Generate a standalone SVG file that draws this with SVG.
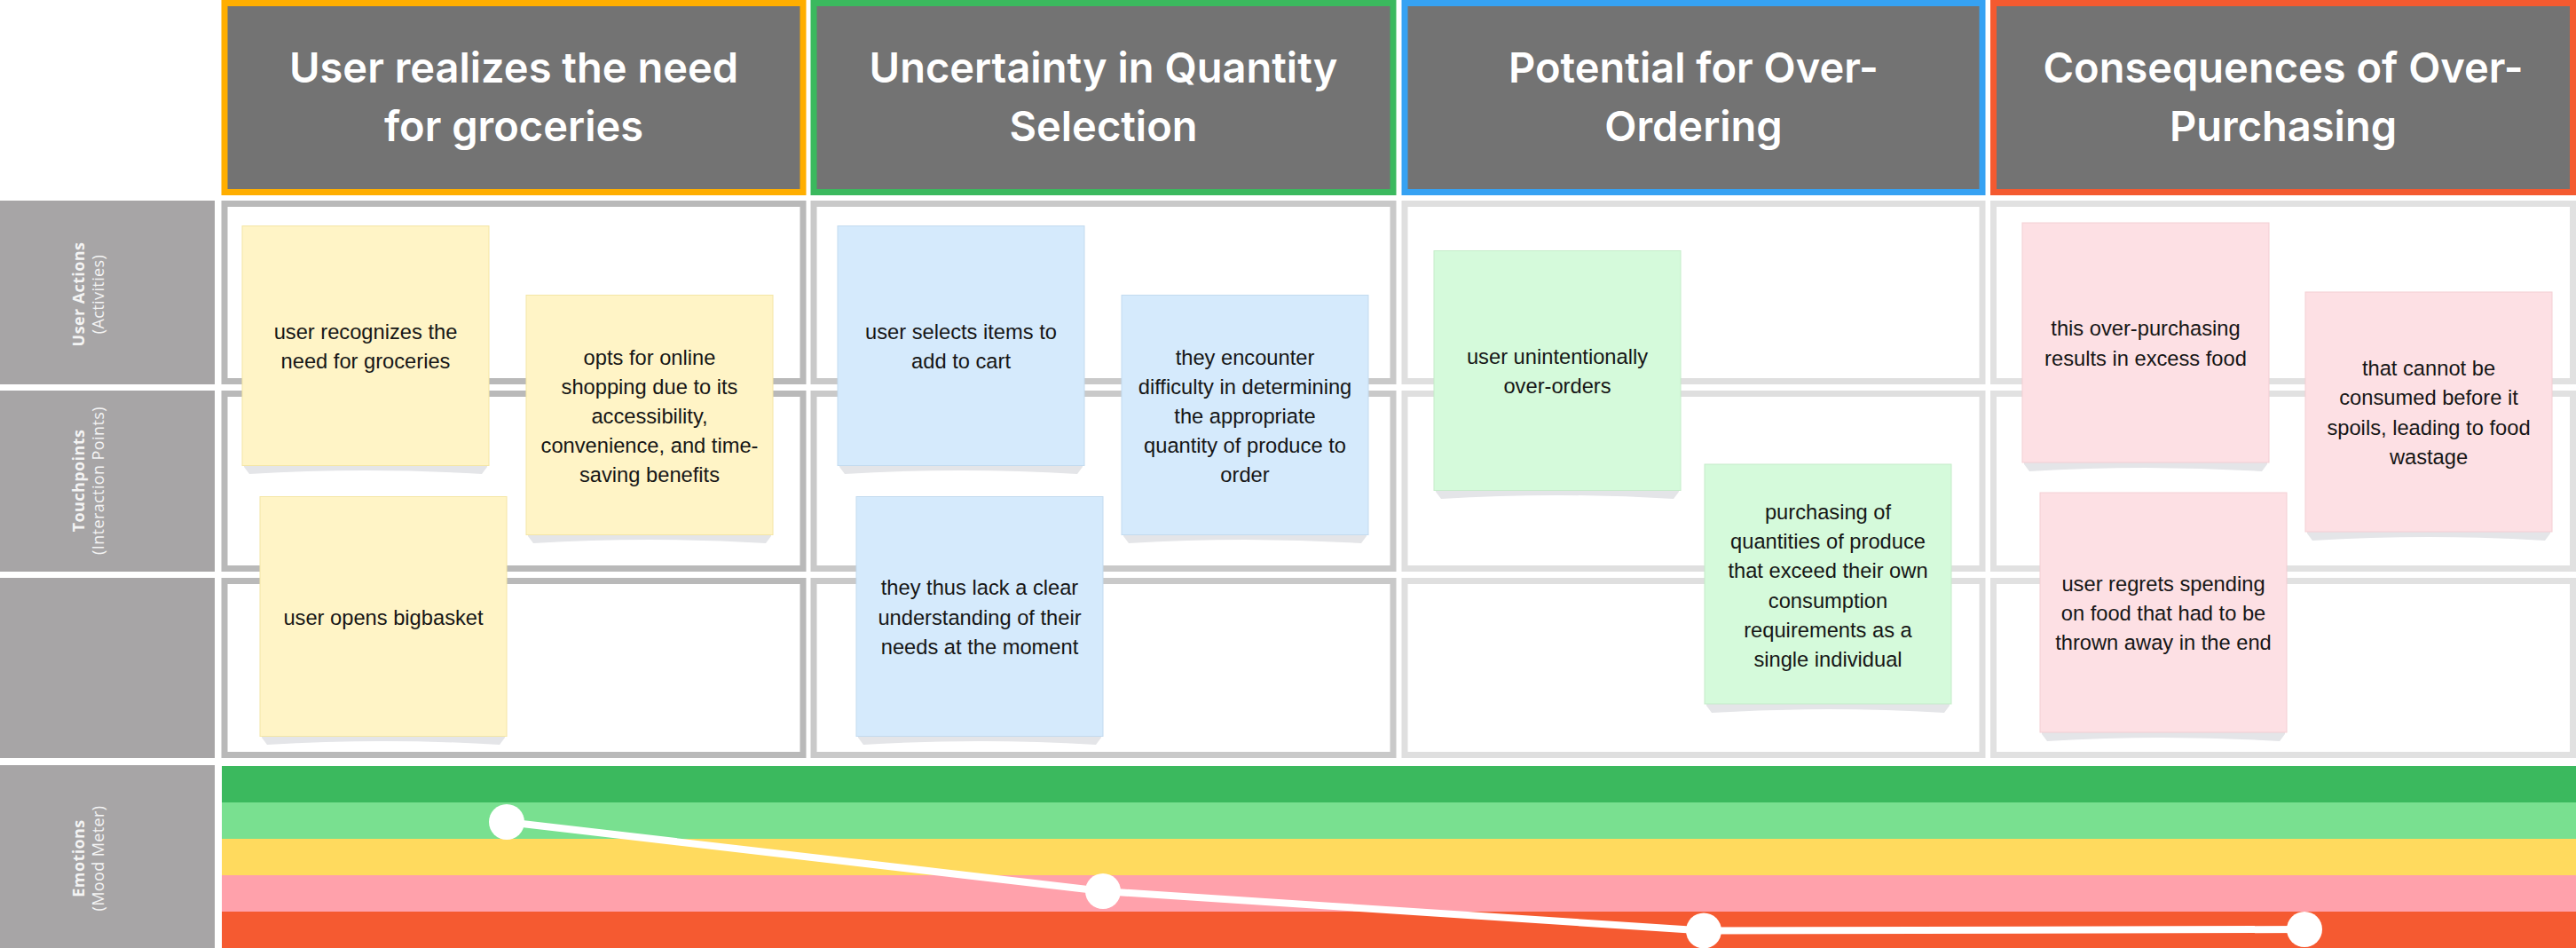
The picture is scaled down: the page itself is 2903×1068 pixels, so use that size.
<svg xmlns="http://www.w3.org/2000/svg" width="2903" height="1068" viewBox="0 0 2903 1068">
<style>
.hdr{fill:#737373;stroke-width:7}
.htxt{font-family:Inter,"Open Sans",sans-serif;font-weight:600;font-size:47px;fill:#ffffff;text-anchor:middle}
.cell{fill:#ffffff;stroke-width:7}
.c1{stroke:#b9b9b9}.c2{stroke:#c9c9c9}.c3{stroke:#dfdfdf}.c4{stroke:#e1e1e1}
.lbl{fill:#a7a5a6}
.ltxt{font-family:"Open Sans","DejaVu Sans",sans-serif;font-size:18px;fill:#f4f4f4;text-anchor:middle;letter-spacing:0.4px}
.ltxt .b{font-weight:700}
.note{stroke-width:1}
.y{fill:#fff4c6;stroke:#f4e6a6}
.bl{fill:#d5eafc;stroke:#c3dbef}
.g{fill:#d5fadb;stroke:#c5ecca}
.p{fill:#fde0e4;stroke:#f3cfd4}
.shadow{fill:#e4e5e8}
.ntxt{font-family:"Liberation Sans",Arial,sans-serif;font-size:23.7px;fill:#161616;text-anchor:middle}
.band{stroke:none}
.mood{fill:none;stroke:#ffffff;stroke-width:8;stroke-linejoin:round}
.dot{fill:#ffffff}
</style>
<defs>
<path id="shd" d="M2,0 L276,0 L276,2 L270,10 Q139,2 8,10 L2,2 Z"/>
</defs>
<rect width="2903" height="1068" fill="#ffffff"/>

<!-- Row labels -->
<g id="label-actions">
<rect class="lbl" x="0" y="226" width="242" height="207"/>
<text class="ltxt" transform="translate(95,331.5) rotate(-90)"><tspan class="b" x="0" y="0">User Actions</tspan></text>
<text class="ltxt" transform="translate(117,331.5) rotate(-90)"><tspan x="0" y="0">(Activities)</tspan></text>
</g>
<g id="label-touchpoints">
<rect class="lbl" x="0" y="440" width="242" height="204"/>
<text class="ltxt" transform="translate(95,541.5) rotate(-90)"><tspan class="b" x="0" y="0">Touchpoints</tspan></text>
<text class="ltxt" transform="translate(117,541.5) rotate(-90)"><tspan x="0" y="0">(Interaction Points)</tspan></text>
</g>
<g id="label-row3">
<rect class="lbl" x="0" y="651" width="242" height="203"/>
</g>
<g id="label-emotions">
<rect class="lbl" x="0" y="862" width="242" height="206"/>
<text class="ltxt" transform="translate(95,967) rotate(-90)"><tspan class="b" x="0" y="0">Emotions</tspan></text>
<text class="ltxt" transform="translate(117,967) rotate(-90)"><tspan x="0" y="0">(Mood Meter)</tspan></text>
</g>

<!-- Headers -->
<g id="header-1">
<rect class="hdr" x="253" y="3.5" width="652" height="213" stroke="#ffae00"/>
<text class="htxt" x="579" y="93">User realizes the need</text>
<text class="htxt" x="579" y="159">for groceries</text>
</g>
<g id="header-2">
<rect class="hdr" x="917" y="3.5" width="653" height="213" stroke="#3bb95e"/>
<text class="htxt" x="1243.5" y="93">Uncertainty in Quantity</text>
<text class="htxt" x="1243.5" y="159">Selection</text>
</g>
<g id="header-3">
<rect class="hdr" x="1583" y="3.5" width="651" height="213" stroke="#36a2f3"/>
<text class="htxt" x="1908.5" y="93">Potential for Over-</text>
<text class="htxt" x="1908.5" y="159">Ordering</text>
</g>
<g id="header-4">
<rect class="hdr" x="2246.5" y="3.5" width="653" height="213" stroke="#f45a30"/>
<text class="htxt" x="2573" y="93">Consequences of Over-</text>
<text class="htxt" x="2573" y="159">Purchasing</text>
</g>

<!-- Grid cells -->
<g id="cells">
<rect class="cell c1" x="253" y="229.5" width="652" height="200"/>
<rect class="cell c1" x="253" y="443.5" width="652" height="197"/>
<rect class="cell c1" x="253" y="654.5" width="652" height="196"/>
<rect class="cell c2" x="917" y="229.5" width="653" height="200"/>
<rect class="cell c2" x="917" y="443.5" width="653" height="197"/>
<rect class="cell c2" x="917" y="654.5" width="653" height="196"/>
<rect class="cell c3" x="1583" y="229.5" width="651" height="200"/>
<rect class="cell c3" x="1583" y="443.5" width="651" height="197"/>
<rect class="cell c3" x="1583" y="654.5" width="651" height="196"/>
<rect class="cell c4" x="2246.5" y="229.5" width="653" height="200"/>
<rect class="cell c4" x="2246.5" y="443.5" width="653" height="197"/>
<rect class="cell c4" x="2246.5" y="654.5" width="653" height="196"/>
</g>

<!-- Mood bands -->
<g id="mood-bands">
<rect class="band" x="250" y="863" width="2653" height="41" fill="#3bb95e"/>
<rect class="band" x="250" y="904" width="2653" height="41" fill="#79e090"/>
<rect class="band" x="250" y="945" width="2653" height="41" fill="#ffda5e"/>
<rect class="band" x="250" y="986" width="2653" height="41" fill="#ffa1ab"/>
<rect class="band" x="250" y="1027" width="2653" height="41" fill="#f55a31"/>
</g>

<!-- Sticky notes -->
<g id="note-1">
<use href="#shd" class="shadow" x="273" y="524"/>
<rect class="note y" x="273" y="254.5" width="278" height="270"/>
<text class="ntxt" x="412" y="382">user recognizes the<tspan x="412" dy="33.2">need for groceries</tspan></text>
</g>
<g id="note-2">
<use href="#shd" class="shadow" x="593" y="602"/>
<rect class="note y" x="593" y="332.5" width="278" height="270"/>
<text class="ntxt" x="732" y="410.6">opts for online<tspan x="732" dy="33.2">shopping due to its</tspan><tspan x="732" dy="33.2">accessibility,</tspan><tspan x="732" dy="33.2">convenience, and time-</tspan><tspan x="732" dy="33.2">saving benefits</tspan></text>
</g>
<g id="note-3">
<use href="#shd" class="shadow" x="293" y="829"/>
<rect class="note y" x="293" y="559.5" width="278" height="270"/>
<text class="ntxt" x="432" y="703.5">user opens bigbasket</text>
</g>
<g id="note-4">
<use href="#shd" class="shadow" x="944" y="524"/>
<rect class="note bl" x="944" y="254.5" width="278" height="270"/>
<text class="ntxt" x="1083" y="382">user selects items to<tspan x="1083" dy="33.2">add to cart</tspan></text>
</g>
<g id="note-5">
<use href="#shd" class="shadow" x="1264" y="602"/>
<rect class="note bl" x="1264" y="332.5" width="278" height="270"/>
<text class="ntxt" x="1403" y="410.6">they encounter<tspan x="1403" dy="33.2">difficulty in determining</tspan><tspan x="1403" dy="33.2">the appropriate</tspan><tspan x="1403" dy="33.2">quantity of produce to</tspan><tspan x="1403" dy="33.2">order</tspan></text>
</g>
<g id="note-6">
<use href="#shd" class="shadow" x="965" y="829"/>
<rect class="note bl" x="965" y="559.5" width="278" height="270"/>
<text class="ntxt" x="1104" y="670.3">they thus lack a clear<tspan x="1104" dy="33.2">understanding of their</tspan><tspan x="1104" dy="33.2">needs at the moment</tspan></text>
</g>
<g id="note-7">
<use href="#shd" class="shadow" x="1616" y="552"/>
<rect class="note g" x="1616" y="282.5" width="278" height="270"/>
<text class="ntxt" x="1755" y="410">user unintentionally<tspan x="1755" dy="33.2">over-orders</tspan></text>
</g>
<g id="note-8">
<use href="#shd" class="shadow" x="1921" y="793"/>
<rect class="note g" x="1921" y="523" width="278" height="270"/>
<text class="ntxt" x="2060" y="584.9">purchasing of<tspan x="2060" dy="33.2">quantities of produce</tspan><tspan x="2060" dy="33.2">that exceed their own</tspan><tspan x="2060" dy="33.2">consumption</tspan><tspan x="2060" dy="33.2">requirements as a</tspan><tspan x="2060" dy="33.2">single individual</tspan></text>
</g>
<g id="note-9">
<use href="#shd" class="shadow" x="2279" y="521"/>
<rect class="note p" x="2279" y="251" width="278" height="270"/>
<text class="ntxt" x="2418" y="378.4">this over-purchasing<tspan x="2418" dy="33.2">results in excess food</tspan></text>
</g>
<g id="note-10">
<use href="#shd" class="shadow" x="2598" y="599"/>
<rect class="note p" x="2598" y="329" width="278" height="270"/>
<text class="ntxt" x="2737" y="423.2">that cannot be<tspan x="2737" dy="33.2">consumed before it</tspan><tspan x="2737" dy="33.2">spoils, leading to food</tspan><tspan x="2737" dy="33.2">wastage</tspan></text>
</g>
<g id="note-11">
<use href="#shd" class="shadow" x="2299" y="825"/>
<rect class="note p" x="2299" y="555" width="278" height="270"/>
<text class="ntxt" x="2438" y="665.8">user regrets spending<tspan x="2438" dy="33.2">on food that had to be</tspan><tspan x="2438" dy="33.2">thrown away in the end</tspan></text>
</g>

<!-- Connectors: mood line -->
<g id="connectors">
<polyline class="mood" points="571,926 1243,1004 1920,1048.5 2597,1047"/>
</g>
<g id="mood-point-1"><circle class="dot" cx="571" cy="926" r="20"/></g>
<g id="mood-point-2"><circle class="dot" cx="1243" cy="1004" r="20"/></g>
<g id="mood-point-3"><circle class="dot" cx="1920" cy="1048.5" r="20"/></g>
<g id="mood-point-4"><circle class="dot" cx="2597" cy="1047" r="20"/></g>
</svg>
